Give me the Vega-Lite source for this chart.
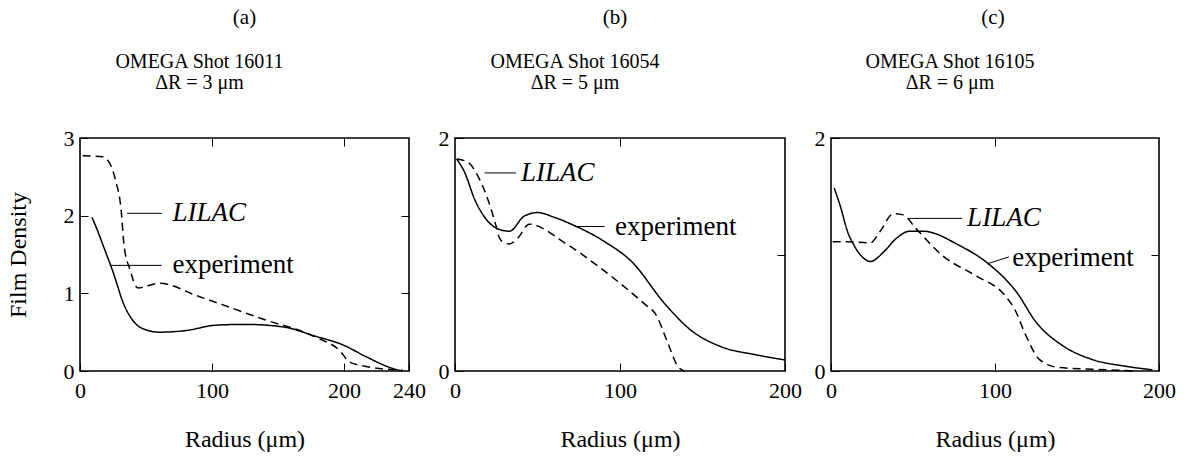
{
  "$schema": "https://vega.github.io/schema/vega-lite/v6.json",
  "background": "white",
  "padding": {"left": 5, "top": 6, "right": 5, "bottom": 2},
  "bounds": "flush",
  "spacing": 132,
  "datasets": {
    "curves_a": [
      {"r": 9, "d": 1.98, "s": "experiment"},
      {"r": 13, "d": 1.82, "s": "experiment"},
      {"r": 17, "d": 1.64, "s": "experiment"},
      {"r": 21, "d": 1.46, "s": "experiment"},
      {"r": 24.5, "d": 1.3, "s": "experiment"},
      {"r": 28, "d": 1.12, "s": "experiment"},
      {"r": 32, "d": 0.91, "s": "experiment"},
      {"r": 38, "d": 0.7, "s": "experiment"},
      {"r": 47, "d": 0.55, "s": "experiment"},
      {"r": 60, "d": 0.5, "s": "experiment"},
      {"r": 80, "d": 0.52, "s": "experiment"},
      {"r": 103, "d": 0.59, "s": "experiment"},
      {"r": 125, "d": 0.6, "s": "experiment"},
      {"r": 153, "d": 0.57, "s": "experiment"},
      {"r": 178, "d": 0.45, "s": "experiment"},
      {"r": 200, "d": 0.33, "s": "experiment"},
      {"r": 213, "d": 0.19, "s": "experiment"},
      {"r": 229, "d": 0.04, "s": "experiment"},
      {"r": 236, "d": 0.0, "s": "experiment"},
      {"r": 2, "d": 2.77, "s": "LILAC"},
      {"r": 17, "d": 2.76, "s": "LILAC"},
      {"r": 22, "d": 2.69, "s": "LILAC"},
      {"r": 27, "d": 2.45, "s": "LILAC"},
      {"r": 31, "d": 2.1, "s": "LILAC"},
      {"r": 33.5, "d": 1.6, "s": "LILAC"},
      {"r": 38, "d": 1.3, "s": "LILAC"},
      {"r": 42, "d": 1.1, "s": "LILAC"},
      {"r": 44, "d": 1.07, "s": "LILAC"},
      {"r": 60, "d": 1.13, "s": "LILAC"},
      {"r": 90, "d": 0.96, "s": "LILAC"},
      {"r": 140, "d": 0.66, "s": "LILAC"},
      {"r": 178, "d": 0.44, "s": "LILAC"},
      {"r": 198, "d": 0.24, "s": "LILAC"},
      {"r": 203, "d": 0.12, "s": "LILAC"},
      {"r": 213, "d": 0.06, "s": "LILAC"},
      {"r": 236, "d": 0.01, "s": "LILAC"}
    ],
    "curves_b": [
      {"r": 1, "d": 1.82, "s": "experiment"},
      {"r": 6, "d": 1.7, "s": "experiment"},
      {"r": 12, "d": 1.47, "s": "experiment"},
      {"r": 18, "d": 1.32, "s": "experiment"},
      {"r": 26, "d": 1.22, "s": "experiment"},
      {"r": 33, "d": 1.2, "s": "experiment"},
      {"r": 42, "d": 1.33, "s": "experiment"},
      {"r": 50, "d": 1.36, "s": "experiment"},
      {"r": 60, "d": 1.32, "s": "experiment"},
      {"r": 70.5, "d": 1.26, "s": "experiment"},
      {"r": 90.7, "d": 1.11, "s": "experiment"},
      {"r": 107, "d": 0.94, "s": "experiment"},
      {"r": 127, "d": 0.58, "s": "experiment"},
      {"r": 143, "d": 0.35, "s": "experiment"},
      {"r": 161, "d": 0.21, "s": "experiment"},
      {"r": 182, "d": 0.14, "s": "experiment"},
      {"r": 200, "d": 0.095, "s": "experiment"},
      {"r": 1, "d": 1.82, "s": "LILAC"},
      {"r": 8, "d": 1.79, "s": "LILAC"},
      {"r": 14, "d": 1.67, "s": "LILAC"},
      {"r": 20, "d": 1.47, "s": "LILAC"},
      {"r": 25, "d": 1.24, "s": "LILAC"},
      {"r": 27, "d": 1.14, "s": "LILAC"},
      {"r": 30, "d": 1.1, "s": "LILAC"},
      {"r": 33, "d": 1.09, "s": "LILAC"},
      {"r": 38, "d": 1.14, "s": "LILAC"},
      {"r": 45, "d": 1.26, "s": "LILAC"},
      {"r": 66.5, "d": 1.1, "s": "LILAC"},
      {"r": 86.7, "d": 0.9, "s": "LILAC"},
      {"r": 117, "d": 0.55, "s": "LILAC"},
      {"r": 121, "d": 0.5, "s": "LILAC"},
      {"r": 129, "d": 0.24, "s": "LILAC"},
      {"r": 135, "d": 0.04, "s": "LILAC"},
      {"r": 139, "d": 0.0, "s": "LILAC"}
    ],
    "curves_c": [
      {"r": 2, "d": 1.57, "s": "experiment"},
      {"r": 6, "d": 1.4, "s": "experiment"},
      {"r": 10, "d": 1.2, "s": "experiment"},
      {"r": 14, "d": 1.08, "s": "experiment"},
      {"r": 19, "d": 0.98, "s": "experiment"},
      {"r": 24, "d": 0.94, "s": "experiment"},
      {"r": 32, "d": 1.02, "s": "experiment"},
      {"r": 40, "d": 1.14, "s": "experiment"},
      {"r": 48, "d": 1.2, "s": "experiment"},
      {"r": 56, "d": 1.2, "s": "experiment"},
      {"r": 78, "d": 1.08, "s": "experiment"},
      {"r": 96, "d": 0.92, "s": "experiment"},
      {"r": 113, "d": 0.68, "s": "experiment"},
      {"r": 125, "d": 0.42, "s": "experiment"},
      {"r": 141, "d": 0.22, "s": "experiment"},
      {"r": 159, "d": 0.1, "s": "experiment"},
      {"r": 180, "d": 0.04, "s": "experiment"},
      {"r": 196, "d": 0.01, "s": "experiment"},
      {"r": 1, "d": 1.11, "s": "LILAC"},
      {"r": 10, "d": 1.11, "s": "LILAC"},
      {"r": 24, "d": 1.1, "s": "LILAC"},
      {"r": 30, "d": 1.2, "s": "LILAC"},
      {"r": 38, "d": 1.35, "s": "LILAC"},
      {"r": 44, "d": 1.34, "s": "LILAC"},
      {"r": 52, "d": 1.22, "s": "LILAC"},
      {"r": 68, "d": 0.99, "s": "LILAC"},
      {"r": 88, "d": 0.82, "s": "LILAC"},
      {"r": 106, "d": 0.65, "s": "LILAC"},
      {"r": 112, "d": 0.53, "s": "LILAC"},
      {"r": 119, "d": 0.3, "s": "LILAC"},
      {"r": 127, "d": 0.1, "s": "LILAC"},
      {"r": 139, "d": 0.03, "s": "LILAC"},
      {"r": 170, "d": 0.01, "s": "LILAC"},
      {"r": 185, "d": 0.0, "s": "LILAC"}
    ],
    "notes_a": [
      {"label": "LILAC", "x1": 35.6, "x2": 62, "y1": 2.03, "y2": 2.03, "tx": 70, "ty": 2.03},
      {"label": "experiment", "x1": 23.5, "x2": 62, "y1": 1.36, "y2": 1.36, "tx": 70, "ty": 1.36}
    ],
    "notes_b": [
      {"label": "LILAC", "x1": 18, "x2": 37, "y1": 1.7, "y2": 1.7, "tx": 40, "ty": 1.7},
      {"label": "experiment", "x1": 72.5, "x2": 90.7, "y1": 1.24, "y2": 1.24, "tx": 97, "ty": 1.24}
    ],
    "notes_c": [
      {"label": "LILAC", "x1": 47.6, "x2": 80, "y1": 1.31, "y2": 1.31, "tx": 83, "ty": 1.31},
      {"label": "experiment", "x1": 95.3, "x2": 108.5, "y1": 0.92, "y2": 0.98, "tx": 110.5, "ty": 0.97}
    ]
  },
  "vconcat": [
    {
      "bounds": "flush",
      "spacing": 46,
      "hconcat": [
        {"width": 329, "height": 24, "view": {"stroke": null},
         "data": {"values": [{"t": "(a)"}]},
         "mark": {"type": "text", "fontSize": 21, "color": "black", "baseline": "middle"},
         "encoding": {"text": {"field": "t"}}},
        {"width": 330, "height": 24, "view": {"stroke": null},
         "data": {"values": [{"t": "(b)"}]},
         "mark": {"type": "text", "fontSize": 21, "color": "black", "baseline": "middle", "dx": -5},
         "encoding": {"text": {"field": "t"}}},
        {"width": 328, "height": 24, "view": {"stroke": null},
         "data": {"values": [{"t": "(c)"}]},
         "mark": {"type": "text", "fontSize": 21, "color": "black", "baseline": "middle", "dx": -2},
         "encoding": {"text": {"field": "t"}}}
      ]
    },
    {
      "bounds": "flush",
      "spacing": 46,
      "hconcat": [
        {
          "width": 329, "height": 233,
          "title": {"text": ["OMEGA Shot 16011", "ΔR = 3 μm"], "dx": -45},
          "resolve": {"axis": {"x": "independent", "y": "independent"}},
          "layer": [
            {"data": {"name": "curves_a"},
             "mark": {"type": "line", "interpolate": "monotone", "color": "black", "strokeWidth": 1.5},
             "encoding": {
               "x": {"field": "r", "type": "quantitative", "scale": {"domain": [0, 200, 240], "range": [0, 264, 329], "nice": false}, "axis": {"values": [0, 100, 200, 240], "title": "Radius (μm)"}},
               "y": {"field": "d", "type": "quantitative", "scale": {"domain": [0, 3], "nice": false}, "axis": {"values": [0, 1, 2, 3], "format": "d", "title": "Film Density"}},
               "strokeDash": {"field": "s", "type": "nominal", "scale": {"domain": ["experiment", "LILAC"], "range": [[1, 0], [8, 5]]}, "legend": null}
             }},
            {"data": {"name": "curves_a"},
             "mark": {"type": "line", "opacity": 0},
             "encoding": {
               "x": {"field": "r", "type": "quantitative", "axis": {"orient": "top", "values": [100, 200], "labels": false, "title": null, "minExtent": 0, "maxExtent": 0}},
               "y": {"field": "d", "type": "quantitative", "axis": {"orient": "right", "values": [1, 2], "labels": false, "title": null, "minExtent": 0, "maxExtent": 0}}
             }},
            {"data": {"name": "notes_a"},
             "mark": {"type": "rule", "color": "black", "strokeWidth": 1},
             "encoding": {
               "x": {"field": "x1", "type": "quantitative", "axis": null}, "x2": {"field": "x2"},
               "y": {"field": "y1", "type": "quantitative", "axis": null}, "y2": {"field": "y2"}
             }},
            {"data": {"name": "notes_a"},
             "transform": [{"filter": "datum.label == 'LILAC'"}],
             "mark": {"type": "text", "align": "left", "baseline": "middle", "fontSize": 27, "fontStyle": "italic", "color": "black"},
             "encoding": {"x": {"field": "tx", "type": "quantitative", "axis": null}, "y": {"field": "ty", "type": "quantitative", "axis": null}, "text": {"field": "label"}}},
            {"data": {"name": "notes_a"},
             "transform": [{"filter": "datum.label == 'experiment'"}],
             "mark": {"type": "text", "align": "left", "baseline": "middle", "fontSize": 27, "color": "black"},
             "encoding": {"x": {"field": "tx", "type": "quantitative", "axis": null}, "y": {"field": "ty", "type": "quantitative", "axis": null}, "text": {"field": "label"}}}
          ]
        },
        {
          "width": 330, "height": 233,
          "title": {"text": ["OMEGA Shot 16054", "ΔR = 5 μm"], "dx": -45},
          "resolve": {"axis": {"x": "independent", "y": "independent"}},
          "layer": [
            {"data": {"name": "curves_b"},
             "mark": {"type": "line", "interpolate": "monotone", "color": "black", "strokeWidth": 1.5},
             "encoding": {
               "x": {"field": "r", "type": "quantitative", "scale": {"domain": [0, 200], "nice": false}, "axis": {"values": [0, 100, 200], "title": "Radius (μm)"}},
               "y": {"field": "d", "type": "quantitative", "scale": {"domain": [0, 2], "nice": false}, "axis": {"values": [0, 1, 2], "format": "d", "title": null}},
               "strokeDash": {"field": "s", "type": "nominal", "scale": {"domain": ["experiment", "LILAC"], "range": [[1, 0], [8, 5]]}, "legend": null}
             }},
            {"data": {"name": "curves_b"},
             "mark": {"type": "line", "opacity": 0},
             "encoding": {
               "x": {"field": "r", "type": "quantitative", "axis": {"orient": "top", "values": [100], "labels": false, "title": null, "minExtent": 0, "maxExtent": 0}},
               "y": {"field": "d", "type": "quantitative", "axis": {"orient": "right", "values": [1], "labels": false, "title": null, "minExtent": 0, "maxExtent": 0}}
             }},
            {"data": {"name": "notes_b"},
             "mark": {"type": "rule", "color": "black", "strokeWidth": 1},
             "encoding": {
               "x": {"field": "x1", "type": "quantitative", "axis": null}, "x2": {"field": "x2"},
               "y": {"field": "y1", "type": "quantitative", "axis": null}, "y2": {"field": "y2"}
             }},
            {"data": {"name": "notes_b"},
             "transform": [{"filter": "datum.label == 'LILAC'"}],
             "mark": {"type": "text", "align": "left", "baseline": "middle", "fontSize": 27, "fontStyle": "italic", "color": "black"},
             "encoding": {"x": {"field": "tx", "type": "quantitative", "axis": null}, "y": {"field": "ty", "type": "quantitative", "axis": null}, "text": {"field": "label"}}},
            {"data": {"name": "notes_b"},
             "transform": [{"filter": "datum.label == 'experiment'"}],
             "mark": {"type": "text", "align": "left", "baseline": "middle", "fontSize": 27, "color": "black"},
             "encoding": {"x": {"field": "tx", "type": "quantitative", "axis": null}, "y": {"field": "ty", "type": "quantitative", "axis": null}, "text": {"field": "label"}}}
          ]
        },
        {
          "width": 328, "height": 233,
          "title": {"text": ["OMEGA Shot 16105", "ΔR = 6 μm"], "dx": -45},
          "resolve": {"axis": {"x": "independent", "y": "independent"}},
          "layer": [
            {"data": {"name": "curves_c"},
             "mark": {"type": "line", "interpolate": "monotone", "color": "black", "strokeWidth": 1.5},
             "encoding": {
               "x": {"field": "r", "type": "quantitative", "scale": {"domain": [0, 200], "nice": false}, "axis": {"values": [0, 100, 200], "title": "Radius (μm)"}},
               "y": {"field": "d", "type": "quantitative", "scale": {"domain": [0, 2], "nice": false}, "axis": {"values": [0, 1, 2], "format": "d", "title": null}},
               "strokeDash": {"field": "s", "type": "nominal", "scale": {"domain": ["experiment", "LILAC"], "range": [[1, 0], [8, 5]]}, "legend": null}
             }},
            {"data": {"name": "curves_c"},
             "mark": {"type": "line", "opacity": 0},
             "encoding": {
               "x": {"field": "r", "type": "quantitative", "axis": {"orient": "top", "values": [100], "labels": false, "title": null, "minExtent": 0, "maxExtent": 0}},
               "y": {"field": "d", "type": "quantitative", "axis": {"orient": "right", "values": [1], "labels": false, "title": null, "minExtent": 0, "maxExtent": 0}}
             }},
            {"data": {"name": "notes_c"},
             "mark": {"type": "rule", "color": "black", "strokeWidth": 1},
             "encoding": {
               "x": {"field": "x1", "type": "quantitative", "axis": null}, "x2": {"field": "x2"},
               "y": {"field": "y1", "type": "quantitative", "axis": null}, "y2": {"field": "y2"}
             }},
            {"data": {"name": "notes_c"},
             "transform": [{"filter": "datum.label == 'LILAC'"}],
             "mark": {"type": "text", "align": "left", "baseline": "middle", "fontSize": 27, "fontStyle": "italic", "color": "black"},
             "encoding": {"x": {"field": "tx", "type": "quantitative", "axis": null}, "y": {"field": "ty", "type": "quantitative", "axis": null}, "text": {"field": "label"}}},
            {"data": {"name": "notes_c"},
             "transform": [{"filter": "datum.label == 'experiment'"}],
             "mark": {"type": "text", "align": "left", "baseline": "middle", "fontSize": 27, "color": "black"},
             "encoding": {"x": {"field": "tx", "type": "quantitative", "axis": null}, "y": {"field": "ty", "type": "quantitative", "axis": null}, "text": {"field": "label"}}}
          ]
        }
      ]
    }
  ],
  "config": {
    "font": "Liberation Serif, Times New Roman, serif",
    "view": {"stroke": "black", "strokeWidth": 1.6},
    "text": {"font": "Liberation Serif, Times New Roman, serif"},
    "axis": {"domain": false, "grid": false, "tickSize": -8, "tickColor": "black", "tickWidth": 1, "labelFont": "Liberation Serif, Times New Roman, serif", "labelFontSize": 22, "labelColor": "black", "labelFlush": false, "labelOverlap": false, "labelPadding": 14, "titleFont": "Liberation Serif, Times New Roman, serif", "titleFontSize": 24, "titleFontWeight": "normal", "titleColor": "black"},
    "axisX": {"titlePadding": 26, "labelPadding": 17},
    "axisY": {"titlePadding": 33},
    "title": {"font": "Liberation Serif, Times New Roman, serif", "fontSize": 20, "fontWeight": "normal", "color": "black", "lineHeight": 21, "offset": 34, "anchor": "middle"}
  }
}
